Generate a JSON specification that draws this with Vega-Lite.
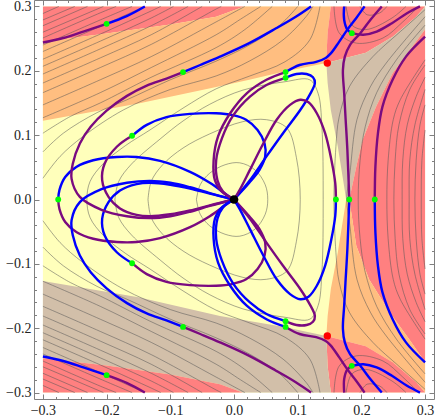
{"$schema":"https://vega.github.io/schema/vega-lite/v6.json","width":400,"height":399,"autosize":"none","padding":{"left":34,"top":0,"right":2,"bottom":20},"background":"white","view":{"stroke":null},
"datasets":{
"regions":[
{"k":"yy","c":"yellow","x":-0.3,"y":0.3},{"k":"yy","c":"yellow","x":0.3,"y":0.3},{"k":"yy","c":"yellow","x":0.3,"y":-0.3},{"k":"yy","c":"yellow","x":-0.3,"y":-0.3},
{"k":"r1","c":"red","x":-0.3,"y":0.3},{"k":"r1","c":"red","x":0.016,"y":0.3},{"k":"r1","c":"red","x":-0.028,"y":0.284},{"k":"r1","c":"red","x":-0.1,"y":0.272},{"k":"r1","c":"red","x":-0.2,"y":0.258},{"k":"r1","c":"red","x":-0.3,"y":0.245},
{"k":"o1","c":"orange","x":-0.3,"y":0.245},{"k":"o1","c":"orange","x":-0.2,"y":0.258},{"k":"o1","c":"orange","x":-0.1,"y":0.272},{"k":"o1","c":"orange","x":-0.028,"y":0.284},{"k":"o1","c":"orange","x":0.016,"y":0.3},{"k":"o1","c":"orange","x":0.152,"y":0.3},{"k":"o1","c":"orange","x":0.147,"y":0.259},{"k":"o1","c":"orange","x":0.145,"y":0.22},{"k":"o1","c":"orange","x":0.145,"y":0.212},{"k":"o1","c":"orange","x":0.079,"y":0.199},{"k":"o1","c":"orange","x":0.024,"y":0.186},{"k":"o1","c":"orange","x":-0.028,"y":0.175},{"k":"o1","c":"orange","x":-0.15,"y":0.149},{"k":"o1","c":"orange","x":-0.3,"y":0.1225},
{"k":"r2","c":"red","x":0.152,"y":0.3},{"k":"r2","c":"red","x":0.147,"y":0.259},{"k":"r2","c":"red","x":0.145,"y":0.22},{"k":"r2","c":"red","x":0.145,"y":0.212},{"k":"r2","c":"red","x":0.207,"y":0.228},{"k":"r2","c":"red","x":0.249,"y":0.253},{"k":"r2","c":"red","x":0.286,"y":0.284},{"k":"r2","c":"red","x":0.3,"y":0.3},
{"k":"t1","c":"tan","x":0.145,"y":0.212},{"k":"t1","c":"tan","x":0.207,"y":0.228},{"k":"t1","c":"tan","x":0.249,"y":0.253},{"k":"t1","c":"tan","x":0.286,"y":0.284},{"k":"t1","c":"tan","x":0.3,"y":0.3},{"k":"t1","c":"tan","x":0.3,"y":0.264},{"k":"t1","c":"tan","x":0.2805,"y":0.238},{"k":"t1","c":"tan","x":0.249,"y":0.196},{"k":"t1","c":"tan","x":0.223,"y":0.144},{"k":"t1","c":"tan","x":0.202,"y":0.093},{"k":"t1","c":"tan","x":0.192,"y":0.051},{"k":"t1","c":"tan","x":0.181,"y":0},{"k":"t1","c":"tan","x":0.176,"y":0},{"k":"t1","c":"tan","x":0.173,"y":0.02},{"k":"t1","c":"tan","x":0.163,"y":0.082},{"k":"t1","c":"tan","x":0.152,"y":0.139},{"k":"t1","c":"tan","x":0.147,"y":0.181},
{"k":"r3","c":"red","x":0.3,"y":0.264},{"k":"r3","c":"red","x":0.2805,"y":0.238},{"k":"r3","c":"red","x":0.249,"y":0.196},{"k":"r3","c":"red","x":0.223,"y":0.144},{"k":"r3","c":"red","x":0.202,"y":0.093},{"k":"r3","c":"red","x":0.192,"y":0.051},{"k":"r3","c":"red","x":0.181,"y":0},{"k":"r3","c":"red","x":0.192,"y":-0.072},{"k":"r3","c":"red","x":0.212,"y":-0.124},{"k":"r3","c":"red","x":0.244,"y":-0.175},{"k":"r3","c":"red","x":0.275,"y":-0.217},{"k":"r3","c":"red","x":0.3,"y":-0.253},
{"k":"o2","c":"orange","x":0.176,"y":0},{"k":"o2","c":"orange","x":0.173,"y":-0.02},{"k":"o2","c":"orange","x":0.163,"y":-0.082},{"k":"o2","c":"orange","x":0.152,"y":-0.139},{"k":"o2","c":"orange","x":0.147,"y":-0.181},{"k":"o2","c":"orange","x":0.145,"y":-0.212},{"k":"o2","c":"orange","x":0.207,"y":-0.228},{"k":"o2","c":"orange","x":0.249,"y":-0.253},{"k":"o2","c":"orange","x":0.286,"y":-0.284},{"k":"o2","c":"orange","x":0.3,"y":-0.3},{"k":"o2","c":"orange","x":0.3,"y":-0.253},{"k":"o2","c":"orange","x":0.275,"y":-0.217},{"k":"o2","c":"orange","x":0.244,"y":-0.175},{"k":"o2","c":"orange","x":0.212,"y":-0.124},{"k":"o2","c":"orange","x":0.192,"y":-0.072},{"k":"o2","c":"orange","x":0.181,"y":0},
{"k":"r4","c":"red","x":0.145,"y":-0.212},{"k":"r4","c":"red","x":0.147,"y":-0.259},{"k":"r4","c":"red","x":0.152,"y":-0.3},{"k":"r4","c":"red","x":0.3,"y":-0.3},{"k":"r4","c":"red","x":0.286,"y":-0.284},{"k":"r4","c":"red","x":0.249,"y":-0.253},{"k":"r4","c":"red","x":0.207,"y":-0.228},
{"k":"t2","c":"tan","x":-0.3,"y":-0.1265},{"k":"t2","c":"tan","x":-0.15,"y":-0.152},{"k":"t2","c":"tan","x":-0.022,"y":-0.181},{"k":"t2","c":"tan","x":0.079,"y":-0.198},{"k":"t2","c":"tan","x":0.145,"y":-0.212},{"k":"t2","c":"tan","x":0.147,"y":-0.259},{"k":"t2","c":"tan","x":0.152,"y":-0.3},{"k":"t2","c":"tan","x":0.0136,"y":-0.3},{"k":"t2","c":"tan","x":-0.022,"y":-0.287},{"k":"t2","c":"tan","x":-0.1,"y":-0.272},{"k":"t2","c":"tan","x":-0.2,"y":-0.258},{"k":"t2","c":"tan","x":-0.3,"y":-0.2465},
{"k":"r5","c":"red","x":-0.3,"y":-0.3},{"k":"r5","c":"red","x":0.0136,"y":-0.3},{"k":"r5","c":"red","x":-0.022,"y":-0.287},{"k":"r5","c":"red","x":-0.1,"y":-0.272},{"k":"r5","c":"red","x":-0.2,"y":-0.258},{"k":"r5","c":"red","x":-0.3,"y":-0.2465}
],
"contours":[
{"k":"c7","x":-0.059,"y":0},{"k":"c7","x":-0.053,"y":0.023},{"k":"c7","x":-0.038,"y":0.041},{"k":"c7","x":-0.014,"y":0.054},{"k":"c7","x":0.009,"y":0.057},{"k":"c7","x":0.033,"y":0.046},{"k":"c7","x":0.049,"y":0.023},{"k":"c7","x":0.053,"y":0},{"k":"c7","x":0.049,"y":-0.023},{"k":"c7","x":0.033,"y":-0.046},{"k":"c7","x":0.009,"y":-0.057},{"k":"c7","x":-0.014,"y":-0.054},{"k":"c7","x":-0.038,"y":-0.041},{"k":"c7","x":-0.053,"y":-0.023},{"k":"c7","x":-0.059,"y":0},
{"k":"c6","x":-0.135,"y":0},{"k":"c6","x":-0.13,"y":0.028},{"k":"c6","x":-0.112,"y":0.054},{"k":"c6","x":-0.08,"y":0.08},{"k":"c6","x":-0.038,"y":0.102},{"k":"c6","x":0.014,"y":0.121},{"k":"c6","x":0.051,"y":0.124},{"k":"c6","x":0.083,"y":0.111},{"k":"c6","x":0.098,"y":0.065},{"k":"c6","x":0.104,"y":0},{"k":"c6","x":0.098,"y":-0.065},{"k":"c6","x":0.083,"y":-0.111},{"k":"c6","x":0.051,"y":-0.124},{"k":"c6","x":0.014,"y":-0.121},{"k":"c6","x":-0.038,"y":-0.102},{"k":"c6","x":-0.08,"y":-0.08},{"k":"c6","x":-0.112,"y":-0.054},{"k":"c6","x":-0.13,"y":-0.028},{"k":"c6","x":-0.135,"y":0},
{"k":"c5","x":-0.187,"y":0},{"k":"c5","x":-0.181,"y":0.028},{"k":"c5","x":-0.161,"y":0.055},{"k":"c5","x":-0.116,"y":0.094},{"k":"c5","x":-0.08,"y":0.122},{"k":"c5","x":-0.038,"y":0.148},{"k":"c5","x":0.014,"y":0.17},{"k":"c5","x":0.08,"y":0.183},{"k":"c5","x":0.119,"y":0.186},{"k":"c5","x":0.132,"y":0.165},{"k":"c5","x":0.138,"y":0.113},{"k":"c5","x":0.14,"y":0},{"k":"c5","x":0.138,"y":-0.113},{"k":"c5","x":0.132,"y":-0.165},{"k":"c5","x":0.119,"y":-0.186},{"k":"c5","x":0.08,"y":-0.183},{"k":"c5","x":0.014,"y":-0.17},{"k":"c5","x":-0.038,"y":-0.148},{"k":"c5","x":-0.08,"y":-0.122},{"k":"c5","x":-0.116,"y":-0.094},{"k":"c5","x":-0.161,"y":-0.055},{"k":"c5","x":-0.181,"y":-0.028},{"k":"c5","x":-0.187,"y":0},
{"k":"c4","x":0.135,"y":0.3},{"k":"c4","x":0.119,"y":0.248},{"k":"c4","x":0.08,"y":0.214},{"k":"c4","x":0.025,"y":0.192},{"k":"c4","x":-0.028,"y":0.172},{"k":"c4","x":-0.08,"y":0.142},{"k":"c4","x":-0.132,"y":0.108},{"k":"c4","x":-0.17,"y":0.084},{"k":"c4","x":-0.205,"y":0.056},{"k":"c4","x":-0.226,"y":0.028},{"k":"c4","x":-0.231,"y":0},{"k":"c4","x":-0.226,"y":-0.028},{"k":"c4","x":-0.205,"y":-0.056},{"k":"c4","x":-0.17,"y":-0.084},{"k":"c4","x":-0.132,"y":-0.108},{"k":"c4","x":-0.08,"y":-0.142},{"k":"c4","x":-0.028,"y":-0.172},{"k":"c4","x":0.025,"y":-0.192},{"k":"c4","x":0.08,"y":-0.214},{"k":"c4","x":0.119,"y":-0.248},{"k":"c4","x":0.135,"y":-0.3},
{"k":"l3","x":-0.3,"y":0.033},{"k":"l3","x":-0.273,"y":0.067},{"k":"l3","x":-0.237,"y":0.098},{"k":"l3","x":-0.174,"y":0.139},{"k":"l3","x":-0.1,"y":0.171},{"k":"l3","x":-0.028,"y":0.192},{"k":"l3","x":0.024,"y":0.215},{"k":"l3","x":0.077,"y":0.248},{"k":"l3","x":0.113,"y":0.284},{"k":"l3","x":0.124,"y":0.3},
{"k":"l2","x":-0.3,"y":0.074},{"k":"l2","x":-0.268,"y":0.103},{"k":"l2","x":-0.215,"y":0.135},{"k":"l2","x":-0.168,"y":0.155},{"k":"l2","x":-0.1,"y":0.186},{"k":"l2","x":-0.028,"y":0.215},{"k":"l2","x":0.024,"y":0.24},{"k":"l2","x":0.072,"y":0.271},{"k":"l2","x":0.1,"y":0.3},
{"k":"l1","x":-0.3,"y":0.103},{"k":"l1","x":-0.257,"y":0.129},{"k":"l1","x":-0.21,"y":0.15},{"k":"l1","x":-0.132,"y":0.189},{"k":"l1","x":-0.028,"y":0.236},{"k":"l1","x":0.017,"y":0.264},{"k":"l1","x":0.06,"y":0.3},
{"k":"l4","x":-0.3,"y":0.127},{"k":"l4","x":-0.21,"y":0.166},{"k":"l4","x":-0.13,"y":0.205},{"k":"l4","x":-0.028,"y":0.256},{"k":"l4","x":0.01,"y":0.28},{"k":"l4","x":0.042,"y":0.3},
{"k":"l5","x":-0.3,"y":0.147},{"k":"l5","x":-0.21,"y":0.186},{"k":"l5","x":-0.13,"y":0.222},{"k":"l5","x":-0.028,"y":0.276},{"k":"l5","x":0.017,"y":0.3},
{"k":"l6","x":-0.3,"y":0.166},{"k":"l6","x":-0.21,"y":0.205},{"k":"l6","x":-0.13,"y":0.241},{"k":"l6","x":-0.028,"y":0.296},{"k":"l6","x":-0.02,"y":0.3},
{"k":"l7","x":-0.3,"y":0.181},{"k":"l7","x":-0.21,"y":0.22},{"k":"l7","x":-0.13,"y":0.256},{"k":"l7","x":-0.05,"y":0.3},
{"k":"l8","x":-0.3,"y":0.195},{"k":"l8","x":-0.21,"y":0.234},{"k":"l8","x":-0.13,"y":0.27},{"k":"l8","x":-0.072,"y":0.3},
{"k":"l9","x":-0.3,"y":0.207},{"k":"l9","x":-0.21,"y":0.246},{"k":"l9","x":-0.13,"y":0.282},{"k":"l9","x":-0.095,"y":0.3},
{"k":"la","x":-0.3,"y":0.218},{"k":"la","x":-0.21,"y":0.257},{"k":"la","x":-0.13,"y":0.293},{"k":"la","x":-0.115,"y":0.3},
{"k":"lb","x":-0.3,"y":0.23},{"k":"lb","x":-0.21,"y":0.269},{"k":"lb","x":-0.14,"y":0.3},
{"k":"lc","x":-0.3,"y":0.24},{"k":"lc","x":-0.21,"y":0.279},{"k":"lc","x":-0.16,"y":0.3},
{"k":"ld","x":-0.3,"y":0.251},{"k":"ld","x":-0.21,"y":0.29},{"k":"ld","x":-0.185,"y":0.3},
{"k":"le","x":-0.3,"y":0.26},{"k":"le","x":-0.205,"y":0.3},
{"k":"lf","x":-0.3,"y":0.27},{"k":"lf","x":-0.23,"y":0.3},
{"k":"lg","x":-0.3,"y":0.279},{"k":"lg","x":-0.25,"y":0.3},
{"k":"lh","x":-0.3,"y":0.289},{"k":"lh","x":-0.275,"y":0.3},
{"k":"m3","x":-0.3,"y":-0.033},{"k":"m3","x":-0.273,"y":-0.067},{"k":"m3","x":-0.237,"y":-0.098},{"k":"m3","x":-0.174,"y":-0.139},{"k":"m3","x":-0.1,"y":-0.171},{"k":"m3","x":-0.028,"y":-0.192},{"k":"m3","x":0.024,"y":-0.215},{"k":"m3","x":0.077,"y":-0.248},{"k":"m3","x":0.113,"y":-0.284},{"k":"m3","x":0.124,"y":-0.3},
{"k":"m2","x":-0.3,"y":-0.074},{"k":"m2","x":-0.268,"y":-0.103},{"k":"m2","x":-0.215,"y":-0.135},{"k":"m2","x":-0.168,"y":-0.155},{"k":"m2","x":-0.1,"y":-0.186},{"k":"m2","x":-0.028,"y":-0.215},{"k":"m2","x":0.024,"y":-0.24},{"k":"m2","x":0.072,"y":-0.271},{"k":"m2","x":0.1,"y":-0.3},
{"k":"m1","x":-0.3,"y":-0.103},{"k":"m1","x":-0.257,"y":-0.129},{"k":"m1","x":-0.21,"y":-0.15},{"k":"m1","x":-0.132,"y":-0.189},{"k":"m1","x":-0.028,"y":-0.236},{"k":"m1","x":0.017,"y":-0.264},{"k":"m1","x":0.06,"y":-0.3},
{"k":"m4","x":-0.3,"y":-0.127},{"k":"m4","x":-0.21,"y":-0.166},{"k":"m4","x":-0.13,"y":-0.205},{"k":"m4","x":-0.028,"y":-0.256},{"k":"m4","x":0.01,"y":-0.28},{"k":"m4","x":0.042,"y":-0.3},
{"k":"m5","x":-0.3,"y":-0.147},{"k":"m5","x":-0.21,"y":-0.186},{"k":"m5","x":-0.13,"y":-0.222},{"k":"m5","x":-0.028,"y":-0.276},{"k":"m5","x":0.017,"y":-0.3},
{"k":"m6","x":-0.3,"y":-0.166},{"k":"m6","x":-0.21,"y":-0.205},{"k":"m6","x":-0.13,"y":-0.241},{"k":"m6","x":-0.028,"y":-0.296},{"k":"m6","x":-0.02,"y":-0.3},
{"k":"m7","x":-0.3,"y":-0.181},{"k":"m7","x":-0.21,"y":-0.22},{"k":"m7","x":-0.13,"y":-0.256},{"k":"m7","x":-0.05,"y":-0.3},
{"k":"m8","x":-0.3,"y":-0.195},{"k":"m8","x":-0.21,"y":-0.234},{"k":"m8","x":-0.13,"y":-0.27},{"k":"m8","x":-0.072,"y":-0.3},
{"k":"m9","x":-0.3,"y":-0.207},{"k":"m9","x":-0.21,"y":-0.246},{"k":"m9","x":-0.13,"y":-0.282},{"k":"m9","x":-0.095,"y":-0.3},
{"k":"ma","x":-0.3,"y":-0.218},{"k":"ma","x":-0.21,"y":-0.257},{"k":"ma","x":-0.13,"y":-0.293},{"k":"ma","x":-0.115,"y":-0.3},
{"k":"mb","x":-0.3,"y":-0.23},{"k":"mb","x":-0.21,"y":-0.269},{"k":"mb","x":-0.14,"y":-0.3},
{"k":"mc","x":-0.3,"y":-0.24},{"k":"mc","x":-0.21,"y":-0.279},{"k":"mc","x":-0.16,"y":-0.3},
{"k":"md","x":-0.3,"y":-0.251},{"k":"md","x":-0.21,"y":-0.29},{"k":"md","x":-0.185,"y":-0.3},
{"k":"me","x":-0.3,"y":-0.26},{"k":"me","x":-0.205,"y":-0.3},
{"k":"mf","x":-0.3,"y":-0.27},{"k":"mf","x":-0.23,"y":-0.3},
{"k":"mg","x":-0.3,"y":-0.279},{"k":"mg","x":-0.25,"y":-0.3},
{"k":"mh","x":-0.3,"y":-0.289},{"k":"mh","x":-0.275,"y":-0.3},
{"k":"r1","x":0.3,"y":0.271},{"k":"r1","x":0.255,"y":0.217},{"k":"r1","x":0.224,"y":0.166},{"k":"r1","x":0.206,"y":0.113},{"k":"r1","x":0.198,"y":0.061},{"k":"r1","x":0.195,"y":0},{"k":"r1","x":0.198,"y":-0.061},{"k":"r1","x":0.206,"y":-0.113},{"k":"r1","x":0.224,"y":-0.166},{"k":"r1","x":0.255,"y":-0.217},{"k":"r1","x":0.3,"y":-0.271},
{"k":"r2","x":0.3,"y":0.217},{"k":"r2","x":0.261,"y":0.155},{"k":"r2","x":0.25,"y":0.124},{"k":"r2","x":0.242,"y":0.061},{"k":"r2","x":0.24,"y":0},{"k":"r2","x":0.242,"y":-0.061},{"k":"r2","x":0.25,"y":-0.124},{"k":"r2","x":0.261,"y":-0.155},{"k":"r2","x":0.3,"y":-0.217},
{"k":"r3","x":0.3,"y":0.209},{"k":"r3","x":0.276,"y":0.171},{"k":"r3","x":0.259,"y":0.116},{"k":"r3","x":0.253,"y":0.061},{"k":"r3","x":0.251,"y":0},{"k":"r3","x":0.253,"y":-0.061},{"k":"r3","x":0.259,"y":-0.116},{"k":"r3","x":0.276,"y":-0.171},{"k":"r3","x":0.3,"y":-0.209},
{"k":"r4","x":0.3,"y":0.19},{"k":"r4","x":0.286,"y":0.16},{"k":"r4","x":0.272,"y":0.116},{"k":"r4","x":0.265,"y":0.061},{"k":"r4","x":0.264,"y":0},{"k":"r4","x":0.265,"y":-0.061},{"k":"r4","x":0.272,"y":-0.116},{"k":"r4","x":0.286,"y":-0.16},{"k":"r4","x":0.3,"y":-0.19},
{"k":"r5","x":0.3,"y":0.171},{"k":"r5","x":0.284,"y":0.116},{"k":"r5","x":0.276,"y":0.061},{"k":"r5","x":0.275,"y":0},{"k":"r5","x":0.276,"y":-0.061},{"k":"r5","x":0.284,"y":-0.116},{"k":"r5","x":0.3,"y":-0.171},
{"k":"r6","x":0.3,"y":0.147},{"k":"r6","x":0.292,"y":0.116},{"k":"r6","x":0.286,"y":0.061},{"k":"r6","x":0.284,"y":0},{"k":"r6","x":0.286,"y":-0.061},{"k":"r6","x":0.292,"y":-0.116},{"k":"r6","x":0.3,"y":-0.147},
{"k":"r7","x":0.3,"y":0.108},{"k":"r7","x":0.295,"y":0.061},{"k":"r7","x":0.294,"y":0},{"k":"r7","x":0.295,"y":-0.061},{"k":"r7","x":0.3,"y":-0.108},
{"k":"t1","x":0.3,"y":0.295},{"k":"t1","x":0.259,"y":0.259},{"k":"t1","x":0.218,"y":0.222},{"k":"t1","x":0.181,"y":0.175},{"k":"t1","x":0.165,"y":0.128},{"k":"t1","x":0.16,"y":0.082},{"k":"t1","x":0.157,"y":0},{"k":"t1","x":0.16,"y":-0.082},{"k":"t1","x":0.165,"y":-0.128},{"k":"t1","x":0.181,"y":-0.175},{"k":"t1","x":0.218,"y":-0.222},{"k":"t1","x":0.259,"y":-0.259},{"k":"t1","x":0.3,"y":-0.295},
{"k":"t2","x":0.3,"y":0.284},{"k":"t2","x":0.239,"y":0.212},{"k":"t2","x":0.214,"y":0.175},{"k":"t2","x":0.193,"y":0.124},{"k":"t2","x":0.182,"y":0.041},{"k":"t2","x":0.177,"y":0},{"k":"t2","x":0.182,"y":-0.041},{"k":"t2","x":0.193,"y":-0.124},{"k":"t2","x":0.214,"y":-0.175},{"k":"t2","x":0.239,"y":-0.212},{"k":"t2","x":0.3,"y":-0.284},
{"k":"aa","x":0.176,"y":0.3},{"k":"aa","x":0.185,"y":0.271},{"k":"aa","x":0.207,"y":0.264},{"k":"aa","x":0.248,"y":0.282},{"k":"aa","x":0.27,"y":0.3},
{"k":"ab","x":0.157,"y":0.3},{"k":"ab","x":0.165,"y":0.259},{"k":"ab","x":0.192,"y":0.243},{"k":"ab","x":0.234,"y":0.251},{"k":"ab","x":0.265,"y":0.276},{"k":"ab","x":0.29,"y":0.3},
{"k":"ac","x":0.198,"y":0.3},{"k":"ac","x":0.209,"y":0.287},{"k":"ac","x":0.229,"y":0.29},{"k":"ac","x":0.24,"y":0.3},
{"k":"ba","x":0.176,"y":-0.3},{"k":"ba","x":0.185,"y":-0.271},{"k":"ba","x":0.207,"y":-0.264},{"k":"ba","x":0.248,"y":-0.282},{"k":"ba","x":0.27,"y":-0.3},
{"k":"bb","x":0.157,"y":-0.3},{"k":"bb","x":0.165,"y":-0.259},{"k":"bb","x":0.192,"y":-0.243},{"k":"bb","x":0.234,"y":-0.251},{"k":"bb","x":0.265,"y":-0.276},{"k":"bb","x":0.29,"y":-0.3},
{"k":"bc","x":0.198,"y":-0.3},{"k":"bc","x":0.209,"y":-0.287},{"k":"bc","x":0.229,"y":-0.29},{"k":"bc","x":0.24,"y":-0.3}
],
"curves":[
{"k":"A1","c":"b","x":-0.276,"y":0},{"k":"A1","c":"b","x":-0.274,"y":0.015},{"k":"A1","c":"b","x":-0.265,"y":0.035},{"k":"A1","c":"b","x":-0.247,"y":0.051},{"k":"A1","c":"b","x":-0.221,"y":0.061},{"k":"A1","c":"b","x":-0.184,"y":0.066},{"k":"A1","c":"b","x":-0.153,"y":0.066},{"k":"A1","c":"b","x":-0.116,"y":0.06},{"k":"A1","c":"b","x":-0.069,"y":0.043},{"k":"A1","c":"b","x":-0.038,"y":0.026},{"k":"A1","c":"b","x":-0.011,"y":0.007},{"k":"A1","c":"b","x":0,"y":0},
{"k":"A2","c":"p","x":-0.276,"y":0},{"k":"A2","c":"p","x":-0.274,"y":-0.015},{"k":"A2","c":"p","x":-0.265,"y":-0.035},{"k":"A2","c":"p","x":-0.247,"y":-0.051},{"k":"A2","c":"p","x":-0.221,"y":-0.061},{"k":"A2","c":"p","x":-0.184,"y":-0.066},{"k":"A2","c":"p","x":-0.153,"y":-0.066},{"k":"A2","c":"p","x":-0.116,"y":-0.06},{"k":"A2","c":"p","x":-0.069,"y":-0.043},{"k":"A2","c":"p","x":-0.038,"y":-0.026},{"k":"A2","c":"p","x":-0.011,"y":-0.007},{"k":"A2","c":"p","x":0,"y":0},
{"k":"B1","c":"b","x":-0.16,"y":0.099},{"k":"B1","c":"b","x":-0.137,"y":0.116},{"k":"B1","c":"b","x":-0.106,"y":0.128},{"k":"B1","c":"b","x":-0.069,"y":0.133},{"k":"B1","c":"b","x":-0.028,"y":0.134},{"k":"B1","c":"b","x":-0.002,"y":0.131},{"k":"B1","c":"b","x":0.019,"y":0.124},{"k":"B1","c":"b","x":0.037,"y":0.108},{"k":"B1","c":"b","x":0.048,"y":0.087},{"k":"B1","c":"b","x":0.049,"y":0.067},{"k":"B1","c":"b","x":0.04,"y":0.046},{"k":"B1","c":"b","x":0.024,"y":0.026},{"k":"B1","c":"b","x":0,"y":0},
{"k":"B2","c":"p","x":-0.16,"y":0.099},{"k":"B2","c":"p","x":-0.184,"y":0.082},{"k":"B2","c":"p","x":-0.203,"y":0.056},{"k":"B2","c":"p","x":-0.207,"y":0.03},{"k":"B2","c":"p","x":-0.197,"y":0.004},{"k":"B2","c":"p","x":-0.179,"y":-0.014},{"k":"B2","c":"p","x":-0.153,"y":-0.024},{"k":"B2","c":"p","x":-0.132,"y":-0.026},{"k":"B2","c":"p","x":-0.1,"y":-0.023},{"k":"B2","c":"p","x":-0.069,"y":-0.017},{"k":"B2","c":"p","x":-0.038,"y":-0.009},{"k":"B2","c":"p","x":0,"y":0},
{"k":"B3","c":"p","x":-0.16,"y":-0.099},{"k":"B3","c":"p","x":-0.137,"y":-0.116},{"k":"B3","c":"p","x":-0.106,"y":-0.128},{"k":"B3","c":"p","x":-0.069,"y":-0.133},{"k":"B3","c":"p","x":-0.028,"y":-0.134},{"k":"B3","c":"p","x":-0.002,"y":-0.131},{"k":"B3","c":"p","x":0.019,"y":-0.124},{"k":"B3","c":"p","x":0.037,"y":-0.108},{"k":"B3","c":"p","x":0.048,"y":-0.087},{"k":"B3","c":"p","x":0.049,"y":-0.067},{"k":"B3","c":"p","x":0.04,"y":-0.046},{"k":"B3","c":"p","x":0.024,"y":-0.026},{"k":"B3","c":"p","x":0,"y":0},
{"k":"B4","c":"b","x":-0.16,"y":-0.099},{"k":"B4","c":"b","x":-0.184,"y":-0.082},{"k":"B4","c":"b","x":-0.203,"y":-0.056},{"k":"B4","c":"b","x":-0.207,"y":-0.03},{"k":"B4","c":"b","x":-0.197,"y":-0.004},{"k":"B4","c":"b","x":-0.179,"y":0.014},{"k":"B4","c":"b","x":-0.153,"y":0.024},{"k":"B4","c":"b","x":-0.132,"y":0.026},{"k":"B4","c":"b","x":-0.1,"y":0.023},{"k":"B4","c":"b","x":-0.069,"y":0.017},{"k":"B4","c":"b","x":-0.038,"y":0.009},{"k":"B4","c":"b","x":0,"y":0},
{"k":"C1","c":"b","x":-0.08,"y":0.198},{"k":"C1","c":"b","x":-0.053,"y":0.209},{"k":"C1","c":"b","x":-0.022,"y":0.222},{"k":"C1","c":"b","x":0.024,"y":0.243},{"k":"C1","c":"b","x":0.066,"y":0.266},{"k":"C1","c":"b","x":0.097,"y":0.284},{"k":"C1","c":"b","x":0.121,"y":0.3},
{"k":"C2","c":"p","x":-0.08,"y":0.198},{"k":"C2","c":"p","x":-0.106,"y":0.188},{"k":"C2","c":"p","x":-0.137,"y":0.177},{"k":"C2","c":"p","x":-0.168,"y":0.161},{"k":"C2","c":"p","x":-0.2,"y":0.138},{"k":"C2","c":"p","x":-0.225,"y":0.113},{"k":"C2","c":"p","x":-0.242,"y":0.087},{"k":"C2","c":"p","x":-0.253,"y":0.056},{"k":"C2","c":"p","x":-0.255,"y":0.032},{"k":"C2","c":"p","x":-0.242,"y":0.004},{"k":"C2","c":"p","x":-0.208,"y":-0.016},{"k":"C2","c":"p","x":-0.168,"y":-0.026},{"k":"C2","c":"p","x":-0.132,"y":-0.029},{"k":"C2","c":"p","x":-0.1,"y":-0.026},{"k":"C2","c":"p","x":-0.069,"y":-0.019},{"k":"C2","c":"p","x":-0.038,"y":-0.01},{"k":"C2","c":"p","x":0,"y":0},
{"k":"C3","c":"p","x":-0.08,"y":-0.198},{"k":"C3","c":"p","x":-0.053,"y":-0.209},{"k":"C3","c":"p","x":-0.022,"y":-0.222},{"k":"C3","c":"p","x":0.024,"y":-0.243},{"k":"C3","c":"p","x":0.066,"y":-0.266},{"k":"C3","c":"p","x":0.097,"y":-0.284},{"k":"C3","c":"p","x":0.121,"y":-0.3},
{"k":"C4","c":"b","x":-0.08,"y":-0.198},{"k":"C4","c":"b","x":-0.106,"y":-0.188},{"k":"C4","c":"b","x":-0.137,"y":-0.177},{"k":"C4","c":"b","x":-0.168,"y":-0.161},{"k":"C4","c":"b","x":-0.2,"y":-0.138},{"k":"C4","c":"b","x":-0.225,"y":-0.113},{"k":"C4","c":"b","x":-0.242,"y":-0.087},{"k":"C4","c":"b","x":-0.253,"y":-0.056},{"k":"C4","c":"b","x":-0.255,"y":-0.032},{"k":"C4","c":"b","x":-0.242,"y":-0.004},{"k":"C4","c":"b","x":-0.208,"y":0.016},{"k":"C4","c":"b","x":-0.168,"y":0.026},{"k":"C4","c":"b","x":-0.132,"y":0.029},{"k":"C4","c":"b","x":-0.1,"y":0.026},{"k":"C4","c":"b","x":-0.069,"y":0.019},{"k":"C4","c":"b","x":-0.038,"y":0.01},{"k":"C4","c":"b","x":0,"y":0},
{"k":"T1","c":"b","x":-0.2,"y":0.273},{"k":"T1","c":"b","x":-0.1685,"y":0.285},{"k":"T1","c":"b","x":-0.14,"y":0.3},
{"k":"T2","c":"p","x":-0.2,"y":0.273},{"k":"T2","c":"p","x":-0.2365,"y":0.261},{"k":"T2","c":"p","x":-0.268,"y":0.251},{"k":"T2","c":"p","x":-0.3,"y":0.244},
{"k":"T3","c":"p","x":-0.2,"y":-0.273},{"k":"T3","c":"p","x":-0.1685,"y":-0.285},{"k":"T3","c":"p","x":-0.14,"y":-0.3},
{"k":"T4","c":"b","x":-0.2,"y":-0.273},{"k":"T4","c":"b","x":-0.2365,"y":-0.261},{"k":"T4","c":"b","x":-0.268,"y":-0.251},{"k":"T4","c":"b","x":-0.3,"y":-0.244},
{"k":"D1","c":"b","x":0.081,"y":0.198},{"k":"D1","c":"b","x":0.103,"y":0.209},{"k":"D1","c":"b","x":0.129,"y":0.214},{"k":"D1","c":"b","x":0.144,"y":0.22},{"k":"D1","c":"b","x":0.152,"y":0.227},{"k":"D1","c":"b","x":0.165,"y":0.245},{"k":"D1","c":"b","x":0.178,"y":0.264},{"k":"D1","c":"b","x":0.192,"y":0.282},{"k":"D1","c":"b","x":0.205,"y":0.3},
{"k":"D2","c":"p","x":0.081,"y":0.198},{"k":"D2","c":"p","x":0.051,"y":0.186},{"k":"D2","c":"p","x":0.02,"y":0.165},{"k":"D2","c":"p","x":-0.006,"y":0.134},{"k":"D2","c":"p","x":-0.025,"y":0.098},{"k":"D2","c":"p","x":-0.032,"y":0.061},{"k":"D2","c":"p","x":-0.03,"y":0.03},{"k":"D2","c":"p","x":-0.019,"y":0.012},{"k":"D2","c":"p","x":0,"y":0},
{"k":"D3","c":"p","x":0.081,"y":-0.198},{"k":"D3","c":"p","x":0.103,"y":-0.209},{"k":"D3","c":"p","x":0.129,"y":-0.214},{"k":"D3","c":"p","x":0.144,"y":-0.22},{"k":"D3","c":"p","x":0.152,"y":-0.227},{"k":"D3","c":"p","x":0.165,"y":-0.245},{"k":"D3","c":"p","x":0.178,"y":-0.264},{"k":"D3","c":"p","x":0.192,"y":-0.282},{"k":"D3","c":"p","x":0.205,"y":-0.3},
{"k":"D4","c":"b","x":0.081,"y":-0.198},{"k":"D4","c":"b","x":0.051,"y":-0.186},{"k":"D4","c":"b","x":0.02,"y":-0.165},{"k":"D4","c":"b","x":-0.006,"y":-0.134},{"k":"D4","c":"b","x":-0.025,"y":-0.098},{"k":"D4","c":"b","x":-0.032,"y":-0.061},{"k":"D4","c":"b","x":-0.03,"y":-0.03},{"k":"D4","c":"b","x":-0.019,"y":-0.012},{"k":"D4","c":"b","x":0,"y":0},
{"k":"E1","c":"b","x":0.081,"y":0.189},{"k":"E1","c":"b","x":0.098,"y":0.195},{"k":"E1","c":"b","x":0.114,"y":0.195},{"k":"E1","c":"b","x":0.124,"y":0.19},{"k":"E1","c":"b","x":0.127,"y":0.181},{"k":"E1","c":"b","x":0.119,"y":0.163},{"k":"E1","c":"b","x":0.104,"y":0.139},{"k":"E1","c":"b","x":0.077,"y":0.103},{"k":"E1","c":"b","x":0.051,"y":0.067},{"k":"E1","c":"b","x":0.025,"y":0.03},{"k":"E1","c":"b","x":0,"y":0},
{"k":"E2","c":"p","x":0.081,"y":0.189},{"k":"E2","c":"p","x":0.051,"y":0.178},{"k":"E2","c":"p","x":0.025,"y":0.16},{"k":"E2","c":"p","x":-0.001,"y":0.131},{"k":"E2","c":"p","x":-0.019,"y":0.095},{"k":"E2","c":"p","x":-0.028,"y":0.061},{"k":"E2","c":"p","x":-0.026,"y":0.03},{"k":"E2","c":"p","x":-0.017,"y":0.012},{"k":"E2","c":"p","x":0,"y":0},
{"k":"E3","c":"p","x":0.081,"y":-0.189},{"k":"E3","c":"p","x":0.098,"y":-0.195},{"k":"E3","c":"p","x":0.114,"y":-0.195},{"k":"E3","c":"p","x":0.124,"y":-0.19},{"k":"E3","c":"p","x":0.127,"y":-0.181},{"k":"E3","c":"p","x":0.119,"y":-0.163},{"k":"E3","c":"p","x":0.104,"y":-0.139},{"k":"E3","c":"p","x":0.077,"y":-0.103},{"k":"E3","c":"p","x":0.051,"y":-0.067},{"k":"E3","c":"p","x":0.025,"y":-0.03},{"k":"E3","c":"p","x":0,"y":0},
{"k":"E4","c":"b","x":0.081,"y":-0.189},{"k":"E4","c":"b","x":0.051,"y":-0.178},{"k":"E4","c":"b","x":0.025,"y":-0.16},{"k":"E4","c":"b","x":-0.001,"y":-0.131},{"k":"E4","c":"b","x":-0.019,"y":-0.095},{"k":"E4","c":"b","x":-0.028,"y":-0.061},{"k":"E4","c":"b","x":-0.026,"y":-0.03},{"k":"E4","c":"b","x":-0.017,"y":-0.012},{"k":"E4","c":"b","x":0,"y":0},
{"k":"F1","c":"p","x":0.16,"y":0},{"k":"F1","c":"p","x":0.159,"y":0.025},{"k":"F1","c":"p","x":0.153,"y":0.061},{"k":"F1","c":"p","x":0.143,"y":0.103},{"k":"F1","c":"p","x":0.13,"y":0.134},{"k":"F1","c":"p","x":0.117,"y":0.151},{"k":"F1","c":"p","x":0.104,"y":0.155},{"k":"F1","c":"p","x":0.088,"y":0.147},{"k":"F1","c":"p","x":0.067,"y":0.124},{"k":"F1","c":"p","x":0.046,"y":0.087},{"k":"F1","c":"p","x":0.025,"y":0.046},{"k":"F1","c":"p","x":0.009,"y":0.015},{"k":"F1","c":"p","x":0,"y":0},
{"k":"F2","c":"b","x":0.16,"y":0},{"k":"F2","c":"b","x":0.159,"y":-0.025},{"k":"F2","c":"b","x":0.153,"y":-0.061},{"k":"F2","c":"b","x":0.143,"y":-0.103},{"k":"F2","c":"b","x":0.13,"y":-0.134},{"k":"F2","c":"b","x":0.117,"y":-0.151},{"k":"F2","c":"b","x":0.104,"y":-0.155},{"k":"F2","c":"b","x":0.088,"y":-0.147},{"k":"F2","c":"b","x":0.067,"y":-0.124},{"k":"F2","c":"b","x":0.046,"y":-0.087},{"k":"F2","c":"b","x":0.025,"y":-0.046},{"k":"F2","c":"b","x":0.009,"y":-0.015},{"k":"F2","c":"b","x":0,"y":0},
{"k":"G1","c":"p","x":0.181,"y":0},{"k":"G1","c":"p","x":0.178,"y":0.077},{"k":"G1","c":"p","x":0.175,"y":0.129},{"k":"G1","c":"p","x":0.173,"y":0.165},{"k":"G1","c":"p","x":0.171,"y":0.201},{"k":"G1","c":"p","x":0.174,"y":0.222},{"k":"G1","c":"p","x":0.182,"y":0.24},{"k":"G1","c":"p","x":0.198,"y":0.258},{"k":"G1","c":"p","x":0.214,"y":0.279},{"k":"G1","c":"p","x":0.232,"y":0.3},
{"k":"G2","c":"b","x":0.181,"y":0},{"k":"G2","c":"b","x":0.178,"y":-0.077},{"k":"G2","c":"b","x":0.175,"y":-0.129},{"k":"G2","c":"b","x":0.173,"y":-0.165},{"k":"G2","c":"b","x":0.171,"y":-0.201},{"k":"G2","c":"b","x":0.174,"y":-0.222},{"k":"G2","c":"b","x":0.182,"y":-0.24},{"k":"G2","c":"b","x":0.198,"y":-0.258},{"k":"G2","c":"b","x":0.214,"y":-0.279},{"k":"G2","c":"b","x":0.232,"y":-0.3},
{"k":"H1","c":"b","x":0.185,"y":0.2585},{"k":"H1","c":"b","x":0.178,"y":0.264},{"k":"H1","c":"b","x":0.173,"y":0.279},{"k":"H1","c":"b","x":0.173,"y":0.3},
{"k":"H2","c":"p","x":0.185,"y":0.2585},{"k":"H2","c":"p","x":0.203,"y":0.256},{"k":"H2","c":"p","x":0.224,"y":0.261},{"k":"H2","c":"p","x":0.248,"y":0.274},{"k":"H2","c":"p","x":0.271,"y":0.289},{"k":"H2","c":"p","x":0.292,"y":0.3},
{"k":"H3","c":"p","x":0.185,"y":-0.2585},{"k":"H3","c":"p","x":0.178,"y":-0.264},{"k":"H3","c":"p","x":0.173,"y":-0.279},{"k":"H3","c":"p","x":0.173,"y":-0.3},
{"k":"H4","c":"b","x":0.185,"y":-0.2585},{"k":"H4","c":"b","x":0.203,"y":-0.256},{"k":"H4","c":"b","x":0.224,"y":-0.261},{"k":"H4","c":"b","x":0.248,"y":-0.274},{"k":"H4","c":"b","x":0.271,"y":-0.289},{"k":"H4","c":"b","x":0.292,"y":-0.3},
{"k":"I1","c":"p","x":0.221,"y":0},{"k":"I1","c":"p","x":0.222,"y":0.051},{"k":"I1","c":"p","x":0.226,"y":0.103},{"k":"I1","c":"p","x":0.233,"y":0.144},{"k":"I1","c":"p","x":0.249,"y":0.186},{"k":"I1","c":"p","x":0.27,"y":0.222},{"k":"I1","c":"p","x":0.3,"y":0.253},
{"k":"I2","c":"b","x":0.221,"y":0},{"k":"I2","c":"b","x":0.222,"y":-0.051},{"k":"I2","c":"b","x":0.226,"y":-0.103},{"k":"I2","c":"b","x":0.233,"y":-0.144},{"k":"I2","c":"b","x":0.249,"y":-0.186},{"k":"I2","c":"b","x":0.27,"y":-0.222},{"k":"I2","c":"b","x":0.3,"y":-0.253}
],
"dots":[
{"c":"g","x":-0.2,"y":0.273},{"c":"g","x":-0.2,"y":-0.273},{"c":"g","x":-0.08,"y":0.198},{"c":"g","x":-0.08,"y":-0.198},{"c":"g","x":-0.16,"y":0.099},{"c":"g","x":-0.16,"y":-0.099},{"c":"g","x":-0.276,"y":0},{"c":"g","x":0.081,"y":0.198},{"c":"g","x":0.081,"y":-0.198},{"c":"g","x":0.081,"y":0.189},{"c":"g","x":0.081,"y":-0.189},{"c":"g","x":0.16,"y":0},{"c":"g","x":0.181,"y":0},{"c":"g","x":0.221,"y":0},{"c":"g","x":0.185,"y":0.2585},{"c":"g","x":0.185,"y":-0.2585},
{"c":"r","x":0.1465,"y":0.212},{"c":"r","x":0.1465,"y":-0.212},{"c":"k","x":0,"y":0}
]},
"resolve":{"axis":{"x":"independent","y":"independent"},"scale":{"color":"independent"}},
"layer":[
{"data":{"name":"regions"},"mark":{"type":"line","filled":true,"strokeWidth":0},
"encoding":{"x":{"field":"x","type":"quantitative","scale":{"domain":[-0.314,0.314],"nice":false,"zero":false},"axis":{"orient":"bottom","title":null,"grid":false,"values":[-0.3,-0.2,-0.1,0,0.1,0.2,0.3],"format":".1f","tickSize":-5,"tickColor":"#808080","domainColor":"#808080","labelFont":"Liberation Serif","labelFontSize":14,"labelColor":"#222222","labelPadding":9,"labelFlush":false,"labelOverlap":false}},
"y":{"field":"y","type":"quantitative","scale":{"domain":[-0.31,0.31],"nice":false,"zero":false},"axis":{"orient":"left","title":null,"grid":false,"values":[-0.3,-0.2,-0.1,0,0.1,0.2,0.3],"format":".1f","tickSize":-5,"tickColor":"#808080","domainColor":"#808080","labelFont":"Liberation Serif","labelFontSize":14,"labelColor":"#222222","labelPadding":8,"labelFlush":false,"labelOverlap":false}},
"detail":{"field":"k"},"order":{"value":null},
"color":{"field":"c","type":"nominal","legend":null,"scale":{"domain":["yellow","orange","red","tan"],"range":["#FFFFBB","#FFBE80","#FF8080","#D2BFA9"]}}}},
{"data":{"name":"contours"},"mark":{"type":"line","interpolate":"catmull-rom","stroke":"#555555","strokeWidth":0.8,"opacity":0.65},
"encoding":{"x":{"field":"x","type":"quantitative","scale":{"domain":[-0.314,0.314],"nice":false,"zero":false},"axis":{"orient":"top","title":null,"grid":false,"values":[-0.3,-0.2,-0.1,0,0.1,0.2,0.3],"labels":false,"tickSize":-5,"tickColor":"#808080","domainColor":"#808080"}},
"y":{"field":"y","type":"quantitative","scale":{"domain":[-0.31,0.31],"nice":false,"zero":false},"axis":{"orient":"right","title":null,"grid":false,"values":[-0.3,-0.2,-0.1,0,0.1,0.2,0.3],"labels":false,"tickSize":-5,"tickColor":"#808080","domainColor":"#808080"}},
"detail":{"field":"k"},"order":{"value":null}}},
{"data":{"name":"curves"},"mark":{"type":"line","interpolate":"catmull-rom","strokeWidth":2.4},
"encoding":{"x":{"field":"x","type":"quantitative","scale":{"domain":[-0.314,0.314],"nice":false,"zero":false},"axis":{"orient":"bottom","title":null,"grid":false,"values":[-0.3,-0.28,-0.26,-0.24,-0.22,-0.2,-0.18,-0.16,-0.14,-0.12,-0.1,-0.08,-0.06,-0.04,-0.02,0,0.02,0.04,0.06,0.08,0.1,0.12,0.14,0.16,0.18,0.2,0.22,0.24,0.26,0.28,0.3],"labels":false,"domain":false,"tickSize":-2.5,"tickColor":"#808080"}},
"y":{"field":"y","type":"quantitative","scale":{"domain":[-0.31,0.31],"nice":false,"zero":false},"axis":{"orient":"left","title":null,"grid":false,"values":[-0.3,-0.28,-0.26,-0.24,-0.22,-0.2,-0.18,-0.16,-0.14,-0.12,-0.1,-0.08,-0.06,-0.04,-0.02,0,0.02,0.04,0.06,0.08,0.1,0.12,0.14,0.16,0.18,0.2,0.22,0.24,0.26,0.28,0.3],"labels":false,"domain":false,"tickSize":-2.5,"tickColor":"#808080"}},
"detail":{"field":"k"},"order":{"value":null},
"color":{"field":"c","type":"nominal","legend":null,"scale":{"domain":["b","p"],"range":["#0000FF","#7A0A80"]}}}},
{"data":{"name":"dots"},"mark":{"type":"point","filled":true,"opacity":1},
"encoding":{"x":{"field":"x","type":"quantitative","scale":{"domain":[-0.314,0.314],"nice":false,"zero":false},"axis":{"orient":"top","title":null,"grid":false,"values":[-0.3,-0.28,-0.26,-0.24,-0.22,-0.2,-0.18,-0.16,-0.14,-0.12,-0.1,-0.08,-0.06,-0.04,-0.02,0,0.02,0.04,0.06,0.08,0.1,0.12,0.14,0.16,0.18,0.2,0.22,0.24,0.26,0.28,0.3],"labels":false,"domain":false,"tickSize":-2.5,"tickColor":"#808080"}},
"y":{"field":"y","type":"quantitative","scale":{"domain":[-0.31,0.31],"nice":false,"zero":false},"axis":{"orient":"right","title":null,"grid":false,"values":[-0.3,-0.28,-0.26,-0.24,-0.22,-0.2,-0.18,-0.16,-0.14,-0.12,-0.1,-0.08,-0.06,-0.04,-0.02,0,0.02,0.04,0.06,0.08,0.1,0.12,0.14,0.16,0.18,0.2,0.22,0.24,0.26,0.28,0.3],"labels":false,"domain":false,"tickSize":-2.5,"tickColor":"#808080"}},
"color":{"field":"c","type":"nominal","legend":null,"scale":{"domain":["g","r","k"],"range":["#00FF00","#FF0000","#000000"]}},
"size":{"field":"c","type":"nominal","legend":null,"scale":{"domain":["g","r","k"],"range":[34,75,60]}}}}
]}
